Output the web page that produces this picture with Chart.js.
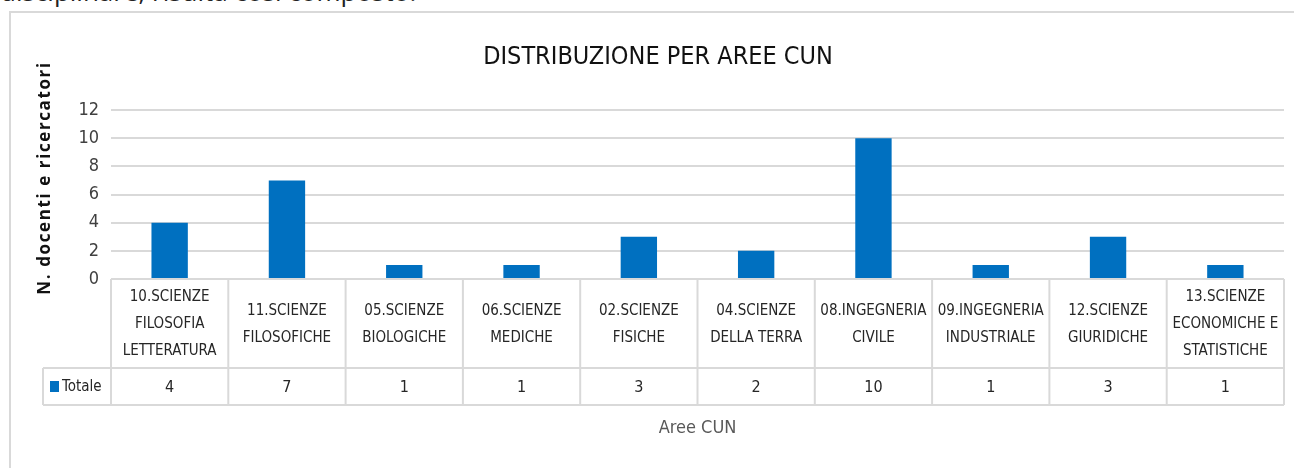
<!DOCTYPE html>
<html>
<head>
<meta charset="utf-8">
<script src="https://cdn.jsdelivr.net/npm/chart.js@4"></script>
<style>
  body { margin: 0; width: 1294px; height: 468px; overflow: hidden; background: #fff; position: relative; }
  #intro { position: absolute; left: 0; top: -27px; font: 26px 'Open Sans', sans-serif; line-height: 36px; color: #222; white-space: nowrap; }
  #frame { position: absolute; left: 9px; top: 11px; width: 1400px; height: 500px; border: 2px solid #d9d9d9; }
  #graph1 { position: absolute; left: 0; top: 0; }
</style>
</head>
<body>
<div id="intro">disciplinare, risulta così composto:</div>
<div id="frame"></div>
<canvas id="graph1" width="1294" height="468"></canvas>
<script>
var categories = [
  ["10.SCIENZE", "FILOSOFIA", "LETTERATURA"],
  ["11.SCIENZE", "FILOSOFICHE"],
  ["05.SCIENZE", "BIOLOGICHE"],
  ["06.SCIENZE", "MEDICHE"],
  ["02.SCIENZE", "FISICHE"],
  ["04.SCIENZE", "DELLA TERRA"],
  ["08.INGEGNERIA", "CIVILE"],
  ["09.INGEGNERIA", "INDUSTRIALE"],
  ["12.SCIENZE", "GIURIDICHE"],
  ["13.SCIENZE", "ECONOMICHE E", "STATISTICHE"]
];
var totale = [4, 7, 1, 1, 3, 2, 10, 1, 3, 1];
var seriesName = "Totale";
var yTitle = "N. docenti e ricercatori";
var xTitle = "Aree CUN";

var NARROW = "'Liberation Sans Narrow', 'DejaVu Sans Condensed', 'Liberation Sans', sans-serif";
var BLUE = "#0070C0";
var LINE = "#d9d9d9";

// draws the data table under the plot, plus the axis titles
var dataTable = {
  id: 'dataTable',
  afterDraw: function(chart) {
    var c = chart.ctx;
    var area = chart.chartArea;
    var x = chart.scales.x;
    var n = categories.length;
    var colW = (area.right - area.left) / n;
    var top = area.bottom;
    var mid = top + 89;
    var bot = mid + 37;
    var legL = 43;

    c.save();
    c.strokeStyle = LINE;
    c.lineWidth = 2;
    c.beginPath();
    c.moveTo(area.left, top); c.lineTo(area.right, top);
    c.moveTo(legL, mid); c.lineTo(area.right, mid);
    c.moveTo(legL, bot); c.lineTo(area.right, bot);
    c.moveTo(legL, mid); c.lineTo(legL, bot);
    for (var i = 0; i <= n; i++) {
      var lx = area.left + i * colW;
      c.moveTo(lx, top); c.lineTo(lx, bot);
    }
    c.stroke();

    c.textAlign = 'center';
    c.textBaseline = 'middle';
    c.fillStyle = '#262626';
    c.font = '15px ' + NARROW;
    var lh = 27;
    categories.forEach(function(lines, i) {
      var cx = x.getPixelForValue(i);
      var y0 = (top + mid) / 2 - (lines.length - 1) * lh / 2 + 1;
      lines.forEach(function(t, j) { c.fillText(t, cx, y0 + j * lh); });
    });
    c.font = '16px ' + NARROW;
    totale.forEach(function(v, i) {
      c.fillText(String(v), x.getPixelForValue(i), (mid + bot) / 2 + 1);
    });

    // legend key
    c.fillStyle = BLUE;
    c.fillRect(50, 381, 9, 11);
    c.fillStyle = '#262626';
    c.textAlign = 'left';
    c.font = '15px ' + NARROW;
    c.fillText(seriesName, 62, (mid + bot) / 2 + 1);

    // x title
    c.textAlign = 'center';
    c.fillStyle = '#595959';
    c.font = '18px ' + NARROW;
    c.fillText(xTitle, (area.left + area.right) / 2, 428);

    // y title
    c.translate(45, 178);
    c.rotate(-Math.PI / 2);
    c.fillStyle = '#111';
    c.font = 'bold 17px "Open Sans", sans-serif';
    c.letterSpacing = '1.6px';
    c.fillText(yTitle, 0, 0);
    c.restore();
  }
};

var ctx = document.getElementById('graph1').getContext('2d');
var chart = new Chart(ctx, {
  type: 'bar',
  data: {
    labels: categories,
    datasets: [{
      label: seriesName,
      backgroundColor: BLUE,
      data: totale,
      barPercentage: 0.62,
      categoryPercentage: 0.5
    }]
  },
  options: {
    responsive: false,
    animation: false,
    layout: { padding: { left: 32, right: 10, top: 0, bottom: 189 } },
    plugins: {
      legend: { display: false },
      tooltip: { enabled: false },
      title: {
        display: true,
        text: "DISTRIBUZIONE PER AREE CUN",
        color: '#111',
        font: { family: NARROW, size: 25, weight: 'normal' },
        padding: { top: 42, bottom: 38 }
      }
    },
    scales: {
      x: { display: false },
      y: {
        min: 0,
        max: 12,
        ticks: { stepSize: 2, padding: 12, color: '#404040', font: { family: NARROW, size: 18 } },
        grid: { color: LINE, lineWidth: 2, drawTicks: false },
        border: { display: false },
        afterFit: function(s) { s.width = 79; }
      }
    }
  },
  plugins: [dataTable]
});
</script>
</body>
</html>
